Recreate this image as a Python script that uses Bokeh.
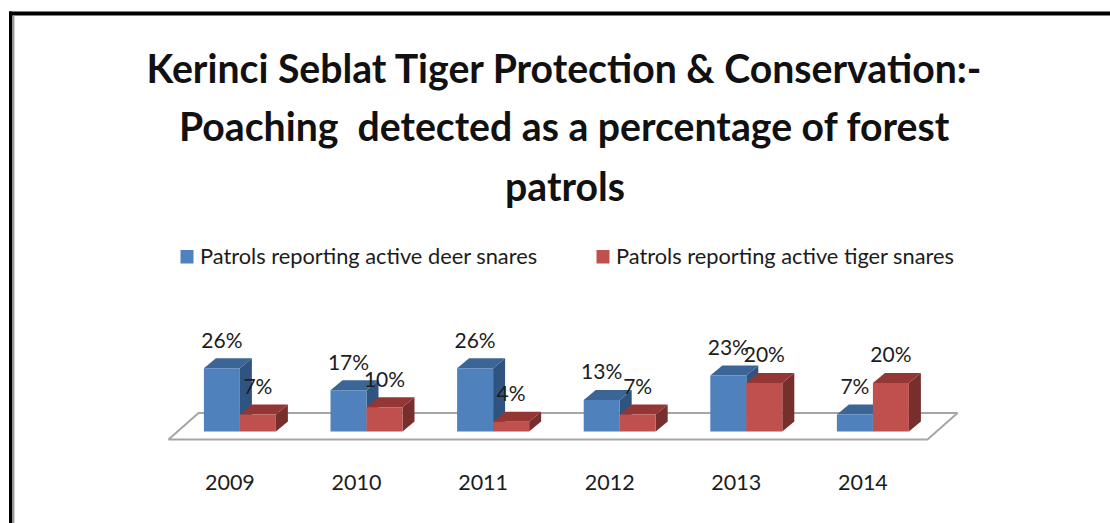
from bokeh.core.properties import value
from bokeh.embed import file_html
from bokeh.models import Range1d
from bokeh.plotting import figure
from bokeh.resources import INLINE

# Poaching data: share of forest patrols reporting active snares
years = [2009, 2010, 2011, 2012, 2013, 2014]
deer_snares = [26, 17, 26, 13, 23, 7]
tiger_snares = [7, 10, 4, 7, 20, 20]
series_names = ["Patrols reporting active deer snares", "Patrols reporting active tiger snares"]
title_lines = [
    "Kerinci Seblat Tiger Protection & Conservation:-",
    "Poaching\u00a0 detected as a percentage of forest",  # no-break space keeps the wide gap in SVG
    "patrols",
]

WIDTH, HEIGHT = 1110, 523
PX_PER_YEAR = 126.6
PX_PER_PCT = 2.43
ORIGIN_X, ORIGIN_Y = 239.4, 431.0  # pixel position of the 2009 group centre at 0 %

BLUE = ("#4f81bd", "#3b6595", "#2f5480")
RED = ("#c0504d", "#943634", "#772f2d")
FONT = value("Lato")
INK = "#1c1c1c"


def X(px):
    return years[0] + (px - ORIGIN_X) / PX_PER_YEAR


def Y(px):
    return (ORIGIN_Y - px) / PX_PER_PCT


BAR_W = 36 / PX_PER_YEAR
DX = 12 / PX_PER_YEAR
DY = 10 / PX_PER_PCT

p = figure(
    width=WIDTH, height=HEIGHT, output_backend="svg", toolbar_location=None,
    x_axis_type=None, y_axis_type=None, min_border=0,
    x_range=Range1d(X(0), X(WIDTH)), y_range=Range1d(Y(HEIGHT), Y(0)),
    background_fill_color="white", border_fill_color="white", outline_line_color=None,
)
p.grid.visible = False

# Page frame: heavy black rule along the top and left, thin grey shadow inside
p.quad(left=[X(8.5), X(8.5)], right=[X(12), X(WIDTH)], top=[Y(11), Y(11)], bottom=[Y(HEIGHT), Y(15)],
       fill_color="black", line_color=None)
p.quad(left=[X(12)], right=[X(14)], top=[Y(15)], bottom=[Y(HEIGHT)], fill_color="#a0a0a0", line_color=None)

# Chart floor
p.patch(x=[X(168), X(198), X(957), X(927)], y=[Y(439), Y(412.5), Y(412.5), Y(439)],
        fill_color="white", line_color="#a6a6a6", line_width=2)


def draw_bars(centres, values, colours):
    """Extruded columns: side and top faces first, the front face over them."""
    left = [c - BAR_W / 2 for c in centres]
    right = [c + BAR_W / 2 for c in centres]
    p.patches(
        xs=[[r, r + DX, r + DX, r] for r in right],
        ys=[[0, DY, v + DY, v] for v in values],
        fill_color=colours[2], line_color=None,
    )
    p.patches(
        xs=[[l, l + DX, r + DX, r] for l, r in zip(left, right)],
        ys=[[v, v + DY, v + DY, v] for v in values],
        fill_color=colours[1], line_color=None,
    )
    p.vbar(x=centres, width=BAR_W, top=values, bottom=0, fill_color=colours[0], line_color=None)


deer_x = [y - BAR_W / 2 for y in years]
tiger_x = [y + BAR_W / 2 for y in years]
draw_bars(deer_x, deer_snares, BLUE)
draw_bars(tiger_x, tiger_snares, RED)

# Value labels sit a fixed distance over each column
label_x = deer_x + tiger_x
label_vals = deer_snares + tiger_snares
p.text(
    x=label_x, y=[v + 29 / PX_PER_PCT for v in label_vals], text=[f"{v}%" for v in label_vals],
    text_font=FONT, text_font_size="21px", text_color=INK, text_align="center", text_baseline="middle",
)

# Category labels sit left of the group centres, under the front edge of the floor
p.text(
    x=[y - 10 / PX_PER_YEAR for y in years], y=[Y(481.5)] * len(years), text=[str(y) for y in years],
    text_font=FONT, text_font_size="21.5px", text_color=INK, text_align="center", text_baseline="middle",
)

# Legend
p.quad(left=[X(180), X(596)], right=[X(193), X(609)], top=[Y(249.5)] * 2, bottom=[Y(263)] * 2,
       fill_color=[BLUE[0], RED[0]], line_color=None)
p.text(
    x=[X(199.5), X(615.5)], y=[Y(255)] * 2, text=series_names,
    text_font=FONT, text_font_size="21.8px", text_color=INK, text_align="left", text_baseline="middle",
)

# Title
p.text(
    x=[X(564.5), X(564), X(564.5)], y=[Y(66.5), Y(125), Y(184.5)], text=title_lines,
    text_font=FONT, text_font_style="bold", text_font_size="39.2px", text_color="#111111",
    text_align="center", text_baseline="middle",
)

open("out.html", "w").write(file_html(p, INLINE))
